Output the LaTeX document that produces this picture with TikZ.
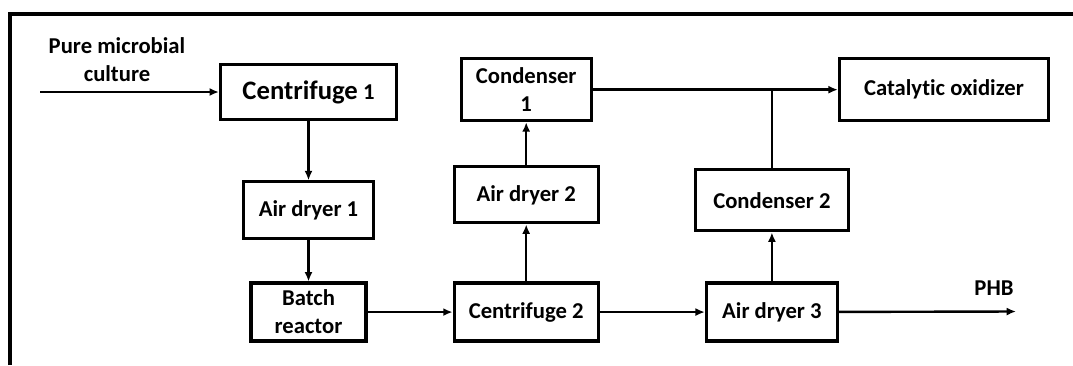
\documentclass[tikz,border=0pt]{standalone}
\usepackage{fontspec}
\setmainfont{Carlito}[Ligatures=NoCommon]
\usetikzlibrary{arrows.meta,positioning}

\begin{document}
\begin{tikzpicture}[
    x=0.75pt, y=-0.75pt,
    font=\bfseries\fontsize{17}{21}\selectfont,
    unit/.style={rectangle, draw, line width=2.4pt, align=center, inner sep=2pt},
    arrow/.style={-{Latex[length=7pt,width=6pt]}, line width=1.8pt},
    line/.style={line width=1.8pt}
]
    \useasboundingbox (0,0) rectangle (1073,365);

    % Frame
    \draw[line width=2.4pt] (10,365) -- (10,14) -- (1073,14);

    % Feed line
    \node[unit, minimum width=132pt, minimum height=41.5pt] (cent1) at (308.5,92) {{\fontsize{20}{24}\selectfont Centrifuge} 1};
    \node[unit, below=44.25pt of cent1, minimum width=97.5pt, minimum height=42.75pt] (dry1) {Air dryer 1};
    \node[unit, below=30.75pt of dry1, minimum width=86.25pt, minimum height=43.5pt] (batch) {Batch\\reactor};

    % Bottom row
    \node[unit, right=63.75pt of batch, minimum width=108pt, minimum height=43.5pt] (cent2) {Centrifuge 2};
    \node[unit, right=78.75pt of cent2, minimum width=98.25pt, minimum height=43.5pt] (dry3) {Air dryer 3};

    % Vapour side
    \node[unit, above=42.75pt of cent2, minimum width=108pt, minimum height=42pt] (dry2) {Air dryer 2};
    \node[unit, above=32.25pt of dry2, minimum width=97.5pt, minimum height=46.5pt] (cond1) {Condenser\\1};
    \node[unit, above=36.75pt of dry3, minimum width=114.75pt, minimum height=45.75pt] (cond2) {Condenser 2};
    \node[unit, right=183.75pt of cond1, minimum width=156.75pt, minimum height=46.5pt] (oxid) {Catalytic oxidizer};

    % Inlet and product
    \coordinate (feed) at (40,92);
    \coordinate (phb) at (1016,311.5);
    \node[align=center] (feedlbl) at (117,60) {Pure microbial\\culture};
    \node (phblbl) at (994,288) {PHB};

    % Arrows
    \draw[arrow] (feed) -- (cent1);
    \draw[arrow] (cent1) -- (dry1);
    \draw[arrow] (dry1) -- (batch);
    \draw[arrow] (batch) -- (cent2);
    \draw[arrow] (cent2) -- (dry2);
    \draw[arrow] (dry2) -- (cond1);
    \draw[arrow] (cent2) -- (dry3);
    \draw[arrow] (dry3) -- (cond2);
    \draw[arrow] (dry3) -- (phb);
    \draw[arrow] (cond1) -- (oxid);
    \draw[line] (cond2) -- (cond2 |- oxid.west);

\end{tikzpicture}
\end{document}
